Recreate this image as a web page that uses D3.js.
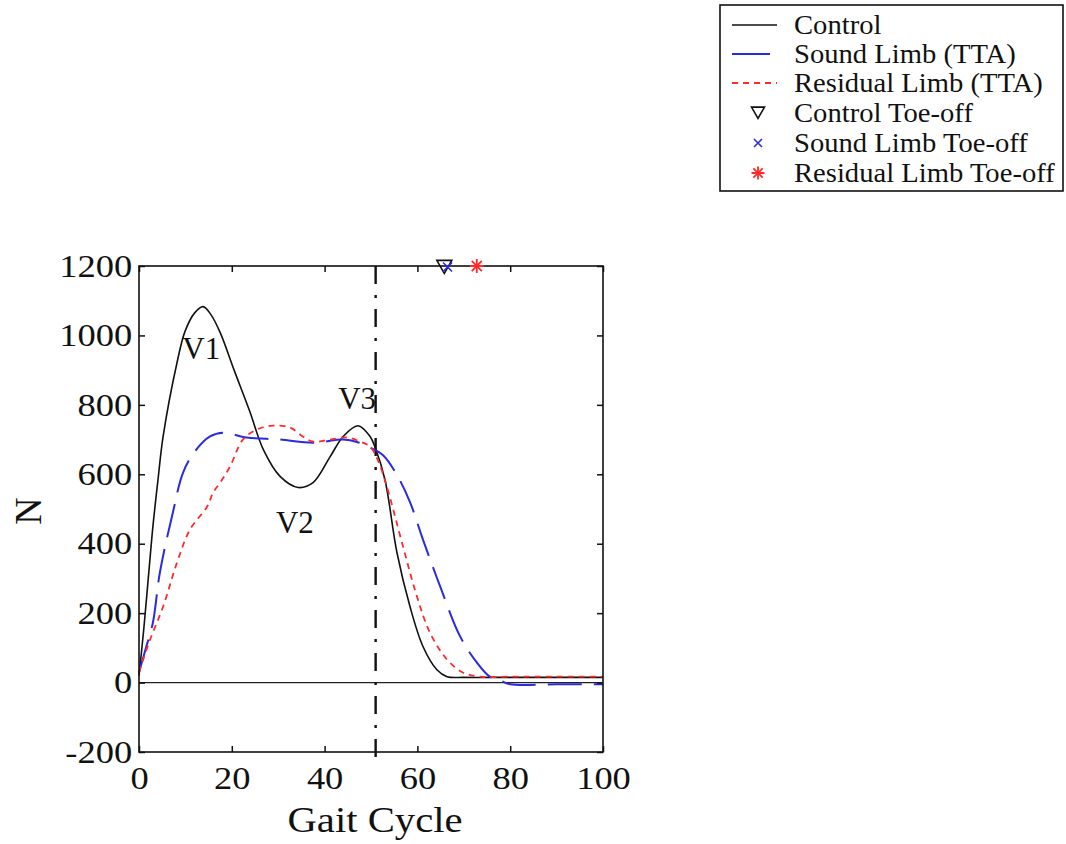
<!DOCTYPE html>
<html>
<head>
<meta charset="utf-8">
<script src="https://cdn.jsdelivr.net/npm/d3@7"></script>
<style>
  html, body { margin: 0; padding: 0; background: #fff; }
  svg { display: block; }
  text { font-family: "Liberation Serif", "Times New Roman", serif; fill: #111; }
</style>
</head>
<body>
<svg id="chart" width="1066" height="844"></svg>
<script>
// Vertical ground reaction force over the gait cycle (% of cycle vs N)
const controlX  = [0, 1, 2, 3, 4.1, 5.2, 8.2, 9.9, 12, 13.8, 15.5, 17.5, 20.5, 23.9, 26.8, 30.4, 34.3, 37.5, 41.2, 44, 47.2, 49.8, 50.9, 53, 55.6, 58.4, 61.2, 64.2, 66.4, 70, 80, 90, 100];
const controlY  = [20, 150, 300, 450, 585, 709, 922, 1011, 1065, 1083, 1060, 1008, 900, 780, 671, 594, 562, 576, 651, 709, 740, 709, 677, 585, 374, 219, 104, 37, 17, 15, 15, 15, 15];

const soundX    = [0, 1.5, 3, 4.5, 7.3, 9.5, 12, 15.3, 18.1, 23.2, 30.4, 37.5, 44, 47, 49.8, 52.6, 55.5, 58.4, 61.2, 64.9, 69.2, 72.8, 75.6, 78, 80, 90, 100];
const soundY    = [30, 100, 173, 317, 490, 605, 665, 709, 720, 706, 700, 691, 700, 693, 677, 655, 600, 520, 412, 277, 133, 58, 17, 5, -5, -5, -5];

const residualX = [0, 2.4, 5.2, 8.2, 11, 14.7, 16, 17.5, 19.6, 22.4, 25.4, 28.9, 32.5, 35.3, 37.5, 41.2, 44.8, 47.5, 49.8, 51.5, 53.4, 56.9, 59.9, 62.7, 66.4, 69.8, 73.5, 80, 90, 100];
const residualY = [30, 124, 219, 346, 441, 507, 548, 576, 622, 700, 729, 740, 735, 709, 694, 700, 706, 695, 680, 640, 565, 392, 248, 144, 66, 29, 17, 17, 17, 17];

// Toe-off instants (% gait cycle), drawn on the top border
const toeOffPct   = [65.8, 66.5, 72.8];
const toeOffLevel = 1200;
const stanceMark  = 51;   // dash-dot reference line

const xTicks = [0, 20, 40, 60, 80, 100];
const yTicks = [-200, 0, 200, 400, 600, 800, 1000, 1200];

const peakLabels = [
  { text: "V1", x: 13.4, y: 931 },
  { text: "V2", x: 33.6, y: 432 },
  { text: "V3", x: 47.0, y: 787 }
];

const legendItems = [
  "Control", "Sound Limb (TTA)", "Residual Limb (TTA)",
  "Control Toe-off", "Sound Limb Toe-off", "Residual Limb Toe-off"
];

const svg = d3.select("#chart");
const x = d3.scaleLinear().domain([0, 100]).range([139, 603]);
const y = d3.scaleLinear().domain([-200, 1200]).range([752, 266]);

const BLUE = "#2a2ae0", RED = "#ff2a2a";

// Helper: serif text with slight horizontal stretch
function label(g, str, px, py, size, sx, anchor) {
  return g.append("text")
    .attr("transform", `translate(${px},${py}) scale(${sx},1)`)
    .attr("text-anchor", anchor || "start")
    .style("font-size", size + "px")
    .text(str);
}

// Zero line
svg.append("line")
  .attr("x1", x(0)).attr("x2", x(100))
  .attr("y1", y(0)).attr("y2", y(0))
  .attr("stroke", "#222").attr("stroke-width", 1.2);

// Dash-dot reference line
svg.append("line")
  .attr("x1", x(stanceMark)).attr("x2", x(stanceMark))
  .attr("y1", y(1200)).attr("y2", y(-200) + 5)
  .attr("stroke", "#111").attr("stroke-width", 2.4)
  .attr("stroke-dasharray", "18,11,3,11");

// Curves
const line = d3.line().curve(d3.curveCatmullRom.alpha(0.5)).x(d => x(d[0])).y(d => y(d[1]));
const series = [
  { xs: controlX, ys: controlY, color: "#111", width: 1.6, dash: null },
  { xs: soundX, ys: soundY, color: BLUE, width: 2, dash: "34,12" },
  { xs: residualX, ys: residualY, color: RED, width: 1.8, dash: "6,5" }
];
series.forEach(s => {
  svg.append("path")
    .datum(d3.zip(s.xs, s.ys))
    .attr("d", line)
    .attr("fill", "none")
    .attr("stroke", s.color)
    .attr("stroke-width", s.width)
    .attr("stroke-dasharray", s.dash);
});

// Axes (ticks pointing inward) and frame
const fmt = d => String(d);
const gx = svg.append("g").attr("transform", `translate(0,${y(-200)})`)
  .call(d3.axisBottom(x).tickValues(xTicks).tickSize(-6).tickPadding(14).tickFormat(fmt));
const gy = svg.append("g").attr("transform", `translate(${x(0)},0)`)
  .call(d3.axisLeft(y).tickValues(yTicks).tickSize(-6).tickPadding(6).tickFormat(fmt));
svg.append("g").attr("transform", `translate(0,${y(1200)})`)
  .call(d3.axisTop(x).tickValues(xTicks).tickSize(-6).tickFormat(""));
svg.append("g").attr("transform", `translate(${x(100)},0)`)
  .call(d3.axisRight(y).tickValues(yTicks).tickSize(-6).tickFormat(""));
svg.selectAll(".domain").remove();
svg.selectAll(".tick line").attr("stroke", "#111").attr("stroke-width", 1.5);
[gx, gy].forEach(g => g.selectAll("text")
  .style("font-size", "32px")
  .style("font-family", "'Liberation Serif', serif")
  .attr("fill", "#111"));
gx.selectAll("text").attr("transform", "scale(1.14,1)");
gy.selectAll("text").attr("transform", "scale(1.14,1)");

svg.append("rect")
  .attr("x", x(0)).attr("y", y(1200))
  .attr("width", x(100) - x(0)).attr("height", y(-200) - y(1200))
  .attr("fill", "none").attr("stroke", "#111").attr("stroke-width", 1.6);

// Peak labels
peakLabels.forEach(p => label(svg, p.text, x(p.x), y(p.y), 31, 1.0, "middle"));

// Axis titles
label(svg, "Gait Cycle", 375, 832, 36, 1.13, "middle");
svg.append("text")
  .attr("transform", "translate(41,511) rotate(-90)")
  .attr("text-anchor", "middle")
  .style("font-size", "38px")
  .text("N");

// Marker shapes
function triangle(g, cx, cy, r, color) {
  g.append("path")
    .attr("d", `M${cx - r},${cy - r * 0.75}L${cx + r},${cy - r * 0.75}L${cx},${cy + r}Z`)
    .attr("fill", "none").attr("stroke", color).attr("stroke-width", 1.6);
}
function cross(g, cx, cy, r, color) {
  g.append("path")
    .attr("d", `M${cx - r},${cy - r}L${cx + r},${cy + r}M${cx - r},${cy + r}L${cx + r},${cy - r}`)
    .attr("stroke", color).attr("stroke-width", 1.6);
}
function star(g, cx, cy, r, color) {
  const d = r * 0.72;
  g.append("path")
    .attr("d", `M${cx - r},${cy}L${cx + r},${cy}M${cx},${cy - r}L${cx},${cy + r}` +
               `M${cx - d},${cy - d}L${cx + d},${cy + d}M${cx - d},${cy + d}L${cx + d},${cy - d}`)
    .attr("stroke", color).attr("stroke-width", 1.8);
}

// Toe-off markers on the top border
triangle(svg, x(toeOffPct[0]), y(toeOffLevel), 7.5, "#111");
cross(svg, x(toeOffPct[1]), y(toeOffLevel) + 1, 4.5, BLUE);
star(svg, x(toeOffPct[2]), y(toeOffLevel), 7, RED);

// Legend
const lg = svg.append("g");
lg.append("rect").attr("x", 720).attr("y", 5).attr("width", 343).attr("height", 186)
  .attr("fill", "#fff").attr("stroke", "#111").attr("stroke-width", 1.6);
const rowY = [25, 54, 83, 113, 143, 173];
lg.append("line").attr("x1", 732).attr("x2", 777).attr("y1", rowY[0]).attr("y2", rowY[0])
  .attr("stroke", "#111").attr("stroke-width", 1.6);
lg.append("line").attr("x1", 732).attr("x2", 770).attr("y1", rowY[1]).attr("y2", rowY[1])
  .attr("stroke", BLUE).attr("stroke-width", 2);
lg.append("line").attr("x1", 732).attr("x2", 777).attr("y1", rowY[2]).attr("y2", rowY[2])
  .attr("stroke", RED).attr("stroke-width", 1.8).attr("stroke-dasharray", "6,5");
triangle(lg, 758, rowY[3] - 1, 6.5, "#111");
cross(lg, 758, rowY[4], 4, BLUE);
star(lg, 758, rowY[5], 6.5, RED);
legendItems.forEach((t, i) => label(lg, t, 794, rowY[i] + 9, 27, 1.06, "start"));
</script>
</body>
</html>
